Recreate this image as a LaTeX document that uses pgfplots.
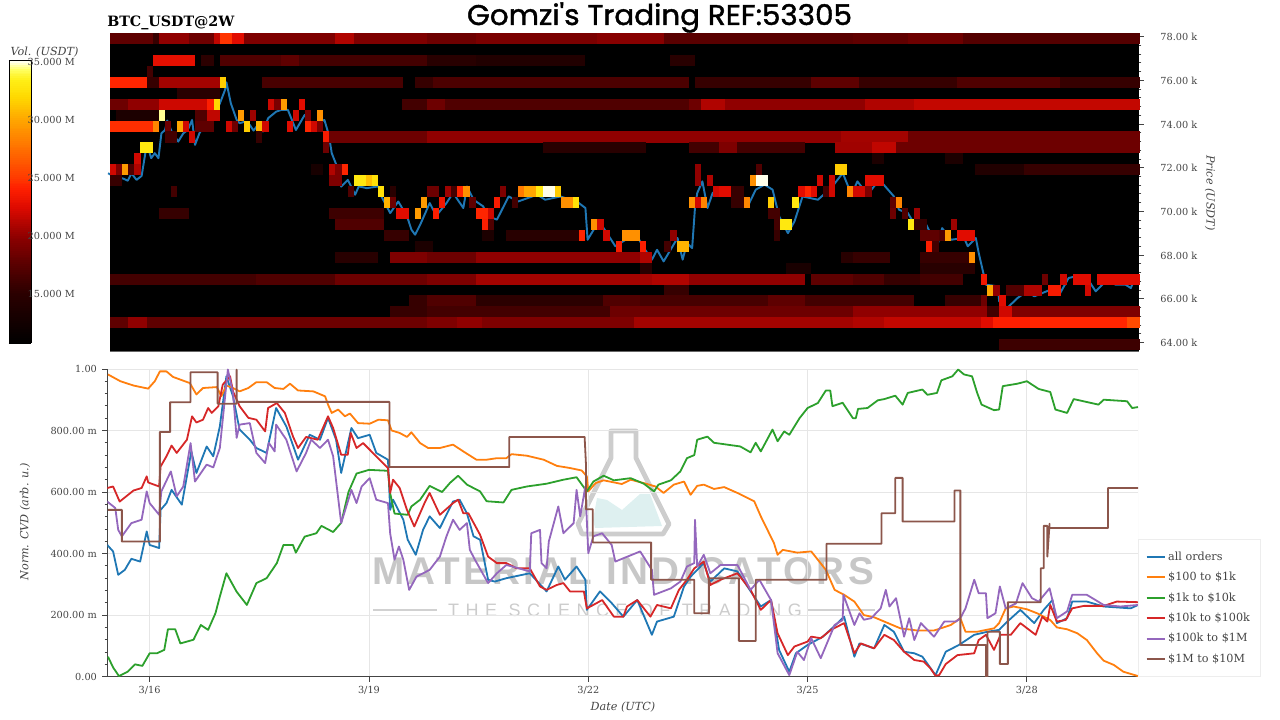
\documentclass[border=0pt]{standalone}
\usepackage{pgfplots}
\usepackage{pgfplotstable}
\usepackage{fontspec}
\pgfplotsset{compat=1.18}
\setmainfont{DejaVu Serif}
\newfontfamily\wmbig[LetterSpace=8.7]{Liberation Sans}
\newfontfamily\wmsmall[LetterSpace=36]{Liberation Sans}
\newfontfamily\ttl[FakeBold=1.4]{Poppins}
\definecolor{txt}{HTML}{444444}
\definecolor{gridc}{HTML}{E6E6E6}
\definecolor{cA}{HTML}{1F77B4}
\definecolor{cB}{HTML}{FF7F0E}
\definecolor{cC}{HTML}{2CA02C}
\definecolor{cD}{HTML}{D62728}
\definecolor{cE}{HTML}{9467BD}
\definecolor{cF}{HTML}{8C564B}
\pgfdeclareplotmark{cell}{\pgfpathrectangle{\pgfpoint{0pt}{-4.13pt}}{\pgfpoint{\cellw pt}{8.26pt}}\pgfusepathqfill}
\pgfplotstableread{
r c w v
0 0 7 17.7
0 7 1 15.6
0 8 5 20
0 13 4 18.4
0 17 1 21.5
0 18 2 24.8
0 20 2 22.6
0 22 15 19.2
0 37 3 21
0 40 12 19.2
0 52 8 18.4
0 60 20 19
0 80 11 19.6
0 91 31 17.5
0 122 9 17.8
0 131 9 18.4
0 140 29 17.2
2 7 7 22.8
2 15 2 15
2 18 10 17
2 28 3 17.7
2 31 21 16.3
2 52 8 14.7
2 60 18 14
2 92 4 14.7
3 6 1 16.3
4 0 6 24.3
4 6 2 15.6
4 8 10 20.6
4 18 1 31.5
4 25 23 16.6
4 50 3 15.6
4 53 42 16.8
4 96 19 15.6
4 115 8 17.7
4 123 16 15.6
4 139 17 17
4 156 13 15.6
5 11 7 14.7
6 0 3 18.4
6 3 5 20
6 8 8 21.9
6 16 1 24
6 17 1 32
6 26 1 21.9
6 27 1 19
6 28 1 29.5
6 31 1 22.6
6 48 4 16.3
6 52 3 18.4
6 55 40 17
6 95 2 18.4
6 97 4 21
6 101 21 20
6 122 2 20
6 124 8 21
6 132 37 21.6
7 1 7 13.5
7 8 1 34.6
7 14 2 17
7 16 2 21.5
7 21 1 29.5
7 23 1 20.4
7 30 1 22
7 32 1 19
7 34 1 29
8 0 7 24.6
8 7 1 28.5
8 9 1 18.4
8 11 1 30
8 12 1 22
8 14 3 17.7
8 19 1 22
8 20 1 18.4
8 22 1 31.5
8 24 1 30.5
8 25 1 22
8 29 1 22.6
8 32 1 24.3
8 33 1 22
8 34 1 19
9 9 2 16.3
9 13 1 22
9 24 1 15.6
9 35 1 23.7
9 36 16 18.4
9 52 68 20
9 120 11 20.6
9 131 38 18.4
10 5 2 33
10 35 1 18.4
10 71 17 14.7
10 95 5 16.3
10 100 3 19.2
10 103 11 16.3
10 119 6 20.5
10 125 4 21.5
10 129 40 18.4
11 4 1 22
11 125 2 13.5
11 137 3 13.5
12 0 1 22
12 1 1 19.2
12 2 1 29.5
12 3 1 17
12 4 1 21
12 33 2 13
12 36 1 21
12 37 1 19.2
12 38 1 24.3
12 96 1 20
12 106 1 17
12 119 2 31.5
12 142 8 14
12 150 19 15.6
13 0 2 15.6
13 36 2 19.2
13 40 2 33
13 42 1 31
13 43 1 32.5
13 96 1 20
13 98 1 21
13 105 1 29
13 106 2 35
13 116 1 22
13 118 1 22
13 124 3 22.6
14 10 1 16.3
14 39 1 17
14 44 1 32.5
14 46 1 14.7
14 52 2 18.4
14 55 1 20.4
14 56 1 16.3
14 57 1 24.3
14 58 1 29
14 64 1 19.2
14 67 1 28
14 68 2 30
14 70 1 33
14 71 2 35
14 73 1 31.5
14 99 1 22
14 100 2 22.6
14 102 2 15.6
14 113 1 22.6
14 114 1 24.3
14 115 1 22.6
14 117 1 16.3
14 118 1 22
14 121 1 28.5
14 122 2 22
14 124 1 19.2
15 45 1 30.5
15 46 1 18.4
15 51 1 29.5
15 54 1 23.4
15 59 1 17.7
15 63 1 23.7
15 66 1 16.3
15 74 2 29
15 76 1 32.5
15 95 1 29
15 96 1 22
15 97 1 28.5
15 102 2 15.6
15 104 1 28.5
15 108 1 31.5
15 112 1 33
15 128 1 17.7
15 129 1 28.5
16 8 5 15.6
16 36 9 16
16 47 2 22.6
16 50 1 29.5
16 53 1 24
16 60 2 24.3
16 62 1 22
16 108 2 16.3
16 128 1 18.4
16 130 1 17
16 132 1 20.4
17 37 8 17
17 61 1 24
17 62 1 17
17 79 1 29
17 80 1 22
17 109 1 16.3
17 110 2 33
17 131 1 33
17 132 2 15.6
17 138 1 20.4
18 45 4 15.6
18 61 2 13.5
18 65 12 14.7
18 77 1 24.3
18 81 1 22
18 84 3 29
18 92 1 20
18 109 1 15.6
18 133 3 17.7
18 136 1 17
18 137 1 29.5
18 139 3 22.6
19 50 3 13.5
19 83 1 23.7
19 87 1 24
19 91 1 16.3
19 93 2 30.5
19 134 1 24
19 135 1 16.3
20 37 7 14.7
20 46 6 19.2
20 52 8 18.4
20 60 27 20
20 87 2 21
20 120 2 14.7
20 122 6 15.6
20 133 8 15.6
20 141 1 29
21 87 2 14.7
21 111 4 13.2
21 133 9 14.7
22 0 24 16.3
22 24 13 17
22 37 15 18.4
22 52 8 19.2
22 60 29 20.6
22 89 6 21
22 95 19 20
22 115 7 17.7
22 122 5 17
22 127 6 15.6
22 133 7 16.3
22 143 1 23.4
22 153 1 18.4
22 156 1 22
22 158 3 22.6
22 162 7 22.6
23 91 4 15.6
23 144 1 30
23 145 1 20
23 147 3 17
23 150 3 21
23 154 2 23.7
23 160 1 22
24 49 3 15.6
24 52 8 17
24 60 21 15
24 81 6 17
24 87 21 16.5
24 108 6 17.7
24 114 18 16.3
24 137 6 15.6
24 143 1 18.4
24 146 1 22.6
25 46 6 15.6
25 52 30 16.3
25 82 40 18.4
25 122 22 20
25 144 2 16.3
25 146 2 22
25 148 21 19.2
26 0 3 17.7
26 3 3 20
26 6 12 17.7
26 18 34 18.4
26 52 5 19.2
26 57 4 20
26 61 25 19.2
26 86 36 20.6
26 122 5 21
26 127 16 21.6
26 143 2 22.6
26 145 6 24
26 151 16 24.3
26 167 2 25.8
28 146 23 16
}\heat
\begin{document}
\begin{tikzpicture}
\path[use as bounding box] (0pt,0pt) rectangle (960pt,540pt);
\begin{scope}[x=0.75pt,y=-0.75pt,yshift=540pt]
% watermark
\fill[color={rgb,255:red,222;green,240;blue,240}] (593,520) -- (597,498) -- (607,500) -- (622,510) -- (640,494) -- (650,494) -- (662,526) -- (595,528) -- cycle;
\draw[color={rgb,255:red,205;green,205;blue,205},line width=3.6pt,line join=round] (611,431) -- (636,431) -- (636,458) -- (669,524) -- (663,534) -- (582,534) -- (578,524) -- (611,458) -- cycle;
\node[text=black!22,anchor=base,inner sep=0pt] at (623,585) {\fontsize{29pt}{30pt}\selectfont\wmbig\bfseries MATERIAL INDICATORS};
\node[text=black!20,anchor=base,inner sep=0pt] at (625,617) {\fontsize{13.5pt}{14pt}\selectfont\wmsmall THE SCIENCE OF TRADING};
\draw[black!18,line width=0.9pt] (373,610) -- (437,610) (808,610) -- (875,610);
\end{scope}
% top axis
\begin{axis}[
at={(82.5pt,276.75pt)},anchor=south west,scale only axis,
width=771.4pt,height=238.3pt,
xmin=15.457,xmax=29.526,ymin=63.61,ymax=78.146,
axis x line=none,axis y line*=right,
axis background/.style={fill=black},
clip=false,
colormap={hotm}{[1cm] rgb255(0cm)=(0,0,0) rgb255(18cm)=(44,0,0) rgb255(28cm)=(90,0,0) rgb255(38cm)=(143,0,0) rgb255(48cm)=(221,10,0) rgb255(55cm)=(255,32,0) rgb255(59cm)=(255,60,0) rgb255(69cm)=(255,112,0) rgb255(79cm)=(255,165,0) rgb255(87cm)=(255,216,0) rgb255(93cm)=(255,238,21) rgb255(97cm)=(255,255,96) rgb255(100cm)=(255,255,255)},
point meta min=10.7,point meta max=35.1,
colorbar sampled,
colorbar style={
  samples=150,
  at={(-0.0982,0.9144)},anchor=north west,
  scale only axis,width=16.5pt,height=211.9pt,
  axis line style={black,line width=0.5pt},
  ytick={15,20,25,30,35},
  yticklabels={15.000 M,20.000 M,25.000 M,30.000 M,35.000 M},
  yticklabel pos=right,
  major tick length=0pt,
  yticklabel style={font=\fontsize{7.3}{9}\selectfont,text=txt,xshift=-6pt,yshift=-0.5pt},
},
ytick={64,66,68,70,72,74,76,78},
yticklabels={64.00 k,66.00 k,68.00 k,70.00 k,72.00 k,74.00 k,76.00 k,78.00 k},
minor y tick num=4,
tick align=outside,
major tick length=3.9pt,minor tick length=2.2pt,
tick style={color=txt,line width=0.5pt},
axis line style={draw=none},
yticklabel style={font=\fontsize{7.3}{9}\selectfont,text=txt,xshift=9pt,yshift=-0.4pt},
]
\addplot[scatter,only marks,mark=cell,scatter src=explicit,
  scatter/use mapped color={draw=none,fill=mapped color},
  visualization depends on={4.5675*\thisrow{w}+0.12 \as \cellw}]
  table[x expr=15.457+\thisrow{c}/12,y expr=77.9-0.5*\thisrow{r},meta=v] {\heat};
\addplot[cA,line width=1.45pt,line join=round,no marks] coordinates {
(15.43,71.74)(15.5,71.62)(15.57,71.47)(15.63,71.51)(15.7,71.4)(15.75,71.74)(15.82,71.44)(15.89,71.62)(15.94,72.66)(15.98,72.89)(16.02,72.43)(16.07,72.66)(16.12,72.43)(16.16,73.57)(16.21,73.72)(16.24,74.15)(16.3,73.65)(16.39,73.19)(16.46,73.57)(16.52,73.72)(16.58,74.18)(16.62,73.04)(16.68,73.57)(16.75,73.95)(16.84,74.18)(16.91,74.56)(16.96,74.94)(17.03,75.55)(17.05,75.9)(17.11,74.94)(17.19,74.18)(17.23,74.03)(17.3,74.1)(17.37,73.95)(17.42,73.69)(17.48,73.95)(17.55,73.65)(17.62,74.26)(17.73,74.56)(17.8,74.64)(17.89,74.64)(18,73.72)(18.12,74.41)(18.21,73.95)(18.3,74.03)(18.39,74.18)(18.45,73.5)(18.49,72.66)(18.58,71.9)(18.62,71.13)(18.71,71.44)(18.81,70.76)(18.86,71.14)(18.97,71.06)(19.13,71.14)(19.17,70.68)(19.29,69.92)(19.4,70.45)(19.52,69.77)(19.58,69.16)(19.63,68.93)(19.7,69.39)(19.77,69.92)(19.83,70.38)(19.92,69.8)(20.06,70.38)(20.15,70.84)(20.29,70.15)(20.34,71.14)(20.43,70.53)(20.56,70.23)(20.63,69.77)(20.75,69.62)(20.91,70.68)(21.04,70.45)(21.3,70.76)(21.41,70.53)(21.62,70.68)(21.87,70.38)(21.96,70.15)(21.99,68.7)(22.1,69.31)(22.21,69.23)(22.37,68.4)(22.51,68.7)(22.69,68.73)(22.76,68.32)(22.87,67.79)(22.94,68.24)(23.03,67.71)(23.22,68.78)(23.29,67.79)(23.35,68.55)(23.42,68.32)(23.46,70.23)(23.49,70.84)(23.56,71.37)(23.63,70.15)(23.7,70.84)(23.81,71.06)(23.97,70.68)(24.18,70.23)(24.29,70.99)(24.41,71.22)(24.52,70.99)(24.61,69.77)(24.73,69)(24.82,69.54)(24.93,70.68)(25.14,70.53)(25.32,71.06)(25.48,71.75)(25.6,70.76)(25.68,71.37)(25.82,70.76)(25.98,71.45)(26.18,70.68)(26.25,70.07)(26.37,69.92)(26.48,69.31)(26.61,69.46)(26.77,68.4)(26.84,69.23)(26.96,68.7)(27.14,68.78)(27.19,68.4)(27.3,68.78)(27.34,68.09)(27.44,66.64)(27.6,66.57)(27.62,65.88)(27.73,65.58)(27.87,66.03)(28,66.34)(28.1,66.11)(28.32,66.41)(28.44,66.18)(28.57,66.95)(28.66,67.02)(28.85,66.8)(28.94,66.34)(29.12,66.95)(29.21,66.64)(29.35,66.64)(29.42,66.49)(29.46,66.8)(29.52,66.72)};
\draw[black!60,line width=0.7pt] (rel axis cs:0,0) -- (rel axis cs:1,0);
\end{axis}
% bottom axis
\begin{axis}[
at={(80.6pt,32.5pt)},anchor=south west,scale only axis,
width=772.9pt,height=230.8pt,
xmin=15.423,xmax=29.52,ymin=0,ymax=1,
axis lines*=left,
axis line style={txt,line width=0.8pt},
xtick={16,19,22,25,28},xticklabels={3/16,3/19,3/22,3/25,3/28},
ytick={0,0.2,0.4,0.6,0.8,1},yticklabels={0.00,200.00 m,400.00 m,600.00 m,800.00 m,1.00},
minor y tick num=4,
grid=major,grid style={gridc,line width=0.6pt},
tick align=outside,
major tick length=3.9pt,minor tick length=2.2pt,
tick style={color=txt,line width=0.6pt},
tick label style={font=\fontsize{7.3}{9}\selectfont,text=txt},
yticklabel style={xshift=-0.5pt},
xticklabel style={yshift=0.4pt},
legend cell align=left,
legend style={at={(1,0)},anchor=south west,draw=black!7,line width=0.5pt,
  font=\fontsize{8.4}{10}\selectfont,text=txt,row sep=3.45pt,
  inner xsep=5.5pt,inner ysep=7pt,
  /tikz/every even column/.append style={column sep=3pt}},
legend image code/.code={\draw[#1] (0pt,0pt) -- (13.5pt,0pt);},
every axis plot/.append style={line width=1.35pt,line join=round,no marks},
]
\addplot[cA] coordinates {
(15.42,.428)(15.5,.407)(15.57,.331)(15.66,.347)(15.75,.383)(15.87,.374)(15.96,.472)(16,.428)(16.13,.418)(16.15,.542)(16.23,.564)(16.3,.607)(16.44,.559)(16.57,.732)(16.64,.662)(16.78,.748)(16.87,.716)(16.96,.813)(17.05,.976)(17.14,.911)(17.23,.803)(17.37,.77)(17.46,.743)(17.6,.727)(17.73,.873)(17.87,.813)(18.03,.705)(18.19,.786)(18.33,.77)(18.44,.841)(18.55,.77)(18.62,.662)(18.76,.808)(18.85,.775)(19.01,.786)(19.1,.727)(19.26,.705)(19.29,.542)(19.33,.575)(19.47,.51)(19.53,.445)(19.64,.396)(19.74,.477)(19.83,.521)(19.97,.483)(20.15,.569)(20.24,.575)(20.34,.531)(20.43,.456)(20.52,.445)(20.63,.315)(20.72,.309)(20.88,.32)(21.2,.336)(21.43,.277)(21.59,.358)(21.68,.315)(21.84,.358)(21.96,.315)(21.98,.217)(22.16,.277)(22.32,.239)(22.48,.195)(22.67,.249)(22.87,.136)(22.94,.179)(23.17,.195)(23.31,.293)(23.4,.325)(23.58,.369)(23.67,.309)(23.86,.352)(24.04,.342)(24.27,.26)(24.36,.228)(24.5,.249)(24.61,.087)(24.75,.016)(24.84,.076)(25,.103)(25.21,.13)(25.41,.174)(25.5,.195)(25.64,.065)(25.71,.108)(25.91,.092)(26.05,.168)(26.18,.146)(26.32,.081)(26.46,.076)(26.57,.065)(26.75,.005)(26.89,.081)(27.07,.103)(27.28,.136)(27.46,.146)(27.62,.152)(27.71,.174)(27.91,.217)(28.1,.174)(28.23,.217)(28.35,.249)(28.41,.174)(28.55,.19)(28.62,.244)(28.82,.244)(29.05,.228)(29.42,.222)(29.52,.233)};
\addlegendentry{all orders}
\addplot[cB] coordinates {
(15.43,.982)(15.6,.96)(15.78,.946)(15.98,.936)(16.07,.96)(16.14,.992)(16.23,.992)(16.32,.974)(16.55,.954)(16.64,.917)(16.73,.938)(16.92,.941)(16.98,.911)(17.05,.946)(17.14,.938)(17.23,.927)(17.35,.938)(17.46,.957)(17.6,.957)(17.71,.938)(17.83,.935)(17.92,.952)(18.03,.93)(18.24,.927)(18.4,.911)(18.44,.884)(18.49,.857)(18.58,.868)(18.67,.846)(18.74,.855)(18.85,.824)(19.01,.822)(19.13,.835)(19.26,.833)(19.31,.8)(19.42,.792)(19.52,.779)(19.58,.794)(19.7,.759)(19.81,.743)(19.97,.743)(20.15,.754)(20.29,.732)(20.47,.705)(20.61,.705)(20.75,.71)(20.88,.71)(20.95,.723)(21.16,.718)(21.39,.705)(21.57,.685)(21.75,.678)(21.91,.67)(21.98,.651)(22,.602)(22.1,.629)(22.21,.638)(22.46,.626)(22.58,.64)(22.76,.629)(22.92,.618)(23.03,.597)(23.17,.624)(23.31,.634)(23.4,.591)(23.49,.62)(23.58,.624)(23.72,.61)(23.86,.616)(24.04,.597)(24.27,.57)(24.36,.521)(24.54,.434)(24.59,.396)(24.66,.412)(24.86,.403)(25.05,.407)(25.25,.347)(25.37,.282)(25.5,.266)(25.64,.244)(25.77,.2)(25.91,.193)(26.05,.179)(26.27,.157)(26.5,.15)(26.73,.15)(26.96,.168)(27.09,.19)(27.16,.146)(27.32,.146)(27.55,.157)(27.62,.174)(27.71,.222)(27.82,.228)(28,.219)(28.14,.206)(28.32,.184)(28.41,.16)(28.55,.154)(28.69,.141)(28.82,.119)(28.96,.076)(29.05,.052)(29.19,.038)(29.32,.016)(29.52,.002)};
\addlegendentry{\$100 to \$1k}
\addplot[cC] coordinates {
(15.43,.065)(15.5,.03)(15.58,.002)(15.7,.016)(15.8,.04)(15.9,.035)(16,.076)(16.1,.076)(16.2,.087)(16.25,.154)(16.35,.154)(16.42,.108)(16.6,.12)(16.7,.168)(16.8,.152)(16.9,.206)(16.96,.26)(17.05,.336)(17.19,.276)(17.33,.233)(17.46,.304)(17.6,.32)(17.74,.369)(17.83,.428)(17.96,.428)(18,.403)(18.12,.455)(18.28,.466)(18.35,.49)(18.51,.47)(18.62,.5)(18.72,.6)(18.83,.66)(19,.672)(19.26,.669)(19.29,.596)(19.35,.53)(19.53,.526)(19.58,.553)(19.7,.575)(19.83,.62)(20,.6)(20.11,.63)(20.22,.653)(20.34,.624)(20.52,.602)(20.61,.57)(20.84,.566)(20.95,.607)(21.16,.618)(21.43,.627)(21.66,.64)(21.84,.648)(21.98,.602)(22.07,.634)(22.21,.653)(22.35,.638)(22.58,.645)(22.76,.627)(22.9,.602)(22.96,.624)(23.13,.638)(23.26,.667)(23.35,.71)(23.45,.72)(23.49,.77)(23.63,.78)(23.72,.76)(24.08,.748)(24.22,.729)(24.29,.76)(24.36,.732)(24.52,.803)(24.59,.765)(24.68,.797)(24.75,.786)(24.89,.84)(25,.873)(25.14,.889)(25.25,.93)(25.31,.93)(25.34,.879)(25.48,.89)(25.62,.84)(25.66,.84)(25.69,.87)(25.82,.873)(25.96,.898)(26.05,.902)(26.2,.913)(26.3,.884)(26.37,.922)(26.57,.933)(26.64,.916)(26.77,.922)(26.83,.963)(26.98,.976)(27.06,.998)(27.14,.982)(27.25,.976)(27.32,.922)(27.38,.884)(27.55,.866)(27.62,.868)(27.67,.944)(27.87,.952)(28,.96)(28.16,.935)(28.32,.925)(28.39,.868)(28.55,.857)(28.64,.902)(28.98,.884)(29.05,.9)(29.37,.895)(29.44,.873)(29.52,.876)};
\addlegendentry{\$1k to \$10k}
\addplot[cD] coordinates {
(15.42,.613)(15.5,.618)(15.59,.569)(15.78,.605)(15.89,.613)(15.96,.651)(15.98,.631)(16.13,.618)(16.15,.683)(16.23,.716)(16.3,.751)(16.37,.727)(16.51,.77)(16.58,.846)(16.64,.826)(16.73,.835)(16.8,.873)(16.85,.857)(16.94,.879)(17,.949)(17.1,.976)(17.14,.927)(17.23,.879)(17.35,.841)(17.46,.835)(17.58,.797)(17.62,.873)(17.74,.889)(17.85,.857)(17.96,.781)(18.03,.743)(18.14,.779)(18.3,.77)(18.44,.846)(18.51,.808)(18.62,.721)(18.71,.721)(18.75,.792)(18.83,.743)(18.92,.759)(19.1,.716)(19.26,.678)(19.29,.597)(19.33,.64)(19.42,.613)(19.52,.542)(19.62,.488)(19.76,.564)(19.83,.597)(19.97,.526)(20.15,.564)(20.22,.575)(20.29,.531)(20.36,.531)(20.52,.461)(20.63,.39)(20.75,.369)(20.88,.369)(21.02,.352)(21.2,.352)(21.34,.293)(21.43,.282)(21.57,.298)(21.66,.304)(21.75,.277)(21.94,.277)(21.98,.222)(22.03,.228)(22.19,.249)(22.35,.195)(22.48,.195)(22.53,.228)(22.67,.249)(22.85,.195)(22.94,.233)(23.13,.222)(23.24,.282)(23.35,.315)(23.45,.352)(23.58,.374)(23.67,.298)(23.81,.315)(24.04,.336)(24.22,.282)(24.36,.217)(24.5,.249)(24.59,.141)(24.73,.07)(24.82,.098)(25,.114)(25.05,.13)(25.18,.125)(25.32,.152)(25.5,.174)(25.64,.076)(25.73,.108)(25.91,.092)(26.05,.136)(26.18,.119)(26.32,.081)(26.46,.054)(26.59,.049)(26.68,.027)(26.75,.003)(26.8,.005)(26.89,.041)(27.05,.07)(27.28,.076)(27.34,.119)(27.44,.136)(27.55,.087)(27.64,.136)(27.78,.136)(27.91,.174)(28.12,.136)(28.21,.195)(28.28,.179)(28.32,.233)(28.41,.179)(28.53,.184)(28.62,.222)(28.78,.23)(29.05,.23)(29.23,.244)(29.52,.242)};
\addlegendentry{\$10k to \$100k}
\addplot[cE] coordinates {
(15.42,.569)(15.53,.548)(15.57,.477)(15.62,.456)(15.75,.499)(15.89,.51)(15.96,.602)(16,.564)(16.13,.526)(16.16,.602)(16.29,.667)(16.37,.586)(16.46,.618)(16.56,.759)(16.62,.634)(16.78,.689)(16.87,.68)(16.96,.743)(17.07,.998)(17.14,.922)(17.19,.776)(17.23,.819)(17.37,.824)(17.46,.727)(17.58,.694)(17.63,.76)(17.71,.732)(17.73,.819)(17.87,.77)(18.01,.667)(18.14,.727)(18.21,.77)(18.33,.743)(18.44,.77)(18.51,.716)(18.62,.499)(18.76,.607)(18.83,.564)(18.9,.618)(19.01,.645)(19.1,.575)(19.26,.564)(19.29,.466)(19.35,.38)(19.41,.423)(19.47,.38)(19.55,.282)(19.65,.325)(19.83,.347)(19.97,.39)(20.06,.456)(20.15,.51)(20.24,.477)(20.34,.499)(20.38,.412)(20.45,.38)(20.63,.304)(20.75,.336)(20.88,.363)(21.2,.342)(21.22,.466)(21.34,.477)(21.36,.369)(21.43,.352)(21.46,.439)(21.59,.553)(21.66,.466)(21.8,.499)(21.84,.607)(21.89,.521)(21.96,.618)(22,.401)(22.07,.456)(22.19,.466)(22.32,.428)(22.37,.374)(22.71,.407)(22.87,.347)(22.9,.266)(23.13,.287)(23.26,.309)(23.35,.358)(23.45,.369)(23.46,.51)(23.49,.358)(23.58,.396)(23.67,.336)(23.81,.363)(24.04,.363)(24.22,.282)(24.34,.315)(24.5,.249)(24.59,.076)(24.75,.005)(24.86,.081)(24.95,.054)(25.05,.125)(25.18,.06)(25.37,.168)(25.48,.184)(25.49,.266)(25.64,.168)(25.71,.206)(25.77,.185)(25.87,.19)(26,.222)(26.07,.282)(26.12,.228)(26.21,.255)(26.32,.13)(26.39,.19)(26.46,.119)(26.55,.174)(26.73,.13)(26.87,.179)(27.03,.179)(27.09,.19)(27.16,.222)(27.28,.315)(27.34,.271)(27.44,.271)(27.46,.19)(27.57,.206)(27.63,.293)(27.71,.222)(27.85,.238)(27.94,.304)(28.07,.255)(28.16,.244)(28.31,.287)(28.41,.19)(28.55,.212)(28.62,.266)(28.82,.266)(29.05,.233)(29.28,.228)(29.52,.233)};
\addlegendentry{\$100k to \$1M}
\addplot[cF] coordinates {
(15.43,.542)(15.62,.542)(15.62,.439)(16.14,.439)(16.14,.795)(16.28,.795)(16.28,.892)(16.56,.892)(16.56,.989)(16.93,.989)(16.93,.887)(17.19,.887)(17.19,.998)(17.19,.893)(19.28,.893)(19.28,.681)(20.92,.681)(20.92,.779)(21.95,.779)(21.97,.683)(21.97,.544)(22.06,.544)(22.06,.436)(22.86,.436)(22.86,.315)(23.45,.315)(23.45,.206)(23.65,.206)(23.65,.32)(24.06,.32)(24.06,.116)(24.29,.116)(24.29,.315)(25.26,.315)(25.26,.432)(26.01,.432)(26.01,.531)(26.2,.531)(26.2,.646)(26.3,.646)(26.3,.504)(27.01,.504)(27.01,.605)(27.09,.605)(27.09,.103)(27.44,.103)(27.44,0)(27.46,0)(27.46,.146)(27.63,.146)(27.63,.041)(27.74,.041)(27.74,.242)(28.19,.242)(28.19,.352)(28.23,.352)(28.23,.49)(28.28,.49)(28.28,.39)(28.31,.497)(28.31,.483)(29.11,.483)(29.11,.613)(29.52,.613)};
\addlegendentry{\$1M to \$10M}
\draw[gridc,line width=0.6pt] (rel axis cs:1,0) -- (rel axis cs:1,1);
\end{axis}
\begin{scope}[x=0.75pt,y=-0.75pt,yshift=540pt]
\node[anchor=base west,inner sep=0pt,text=black] at (107,26.5) {\fontsize{10.7pt}{13pt}\selectfont\bfseries BTC\_USDT@2W};
\node[anchor=base,inner sep=0pt,text=black] at (659.5,25) {\resizebox{288.75pt}{17pt}{\ttl Gomzi's Trading REF:53305}};
\node[text=txt,inner sep=0pt] at (44.5,52) {\fontsize{8.4}{10}\selectfont\itshape Vol. (USDT)};
\node[text=txt,inner sep=0pt,rotate=-90] at (1210,193) {\fontsize{8.4}{10}\selectfont\itshape Price (USDT)};
\node[text=txt,inner sep=0pt,rotate=90] at (25,522) {\fontsize{8.4}{10}\selectfont\itshape Norm. CVD (arb. u.)};
\node[text=txt,inner sep=0pt] at (623,707) {\fontsize{8.4}{10}\selectfont\itshape Date (UTC)};
\end{scope}
\end{tikzpicture}
\end{document}
